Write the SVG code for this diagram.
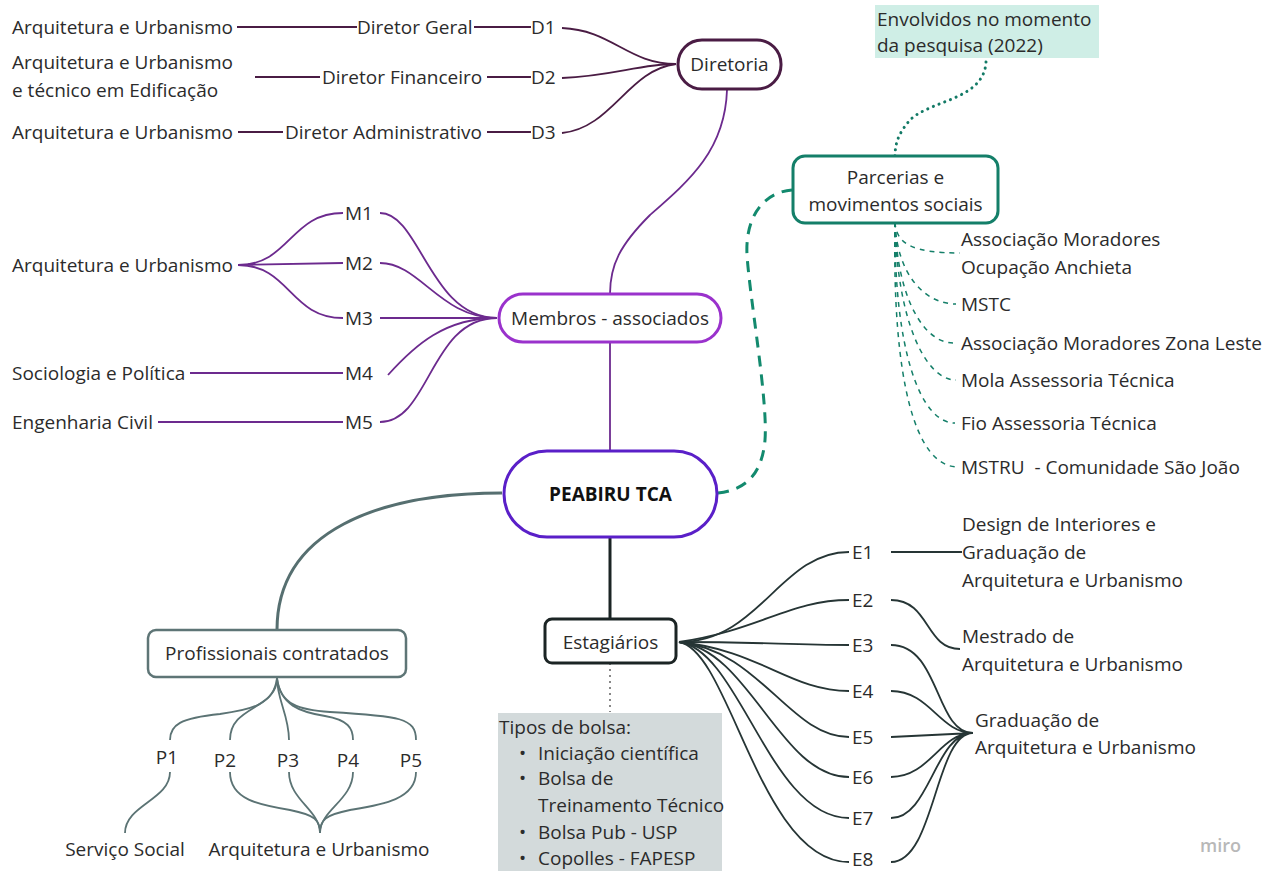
<svg xmlns="http://www.w3.org/2000/svg" width="1283" height="871" viewBox="0 0 1283 871">
<style>
.t{font-family:"Open Sans","Noto Sans",sans-serif;font-size:19px;fill:#2b2b2b}
.c{text-anchor:middle}
.b{font-weight:bold;fill:#111}
.node{fill:#fff}
.dir{stroke:#4a1c44;stroke-width:1.8;fill:none}
.mem{stroke:#6c2a8e;stroke-width:1.8;fill:none}
.par{stroke:#147f69;stroke-width:1.5;fill:none;stroke-dasharray:5 5}
.pro{stroke:#5b7374;stroke-width:1.8;fill:none}
.est{stroke:#263535;stroke-width:1.8;fill:none}
</style>
<rect width="1283" height="871" fill="#fff"/>
<g id="connectors">
  <path class="dir" d="M237,27 H357 M474,27 H531 M562,28 C612,30 628,64 676,64"/>
  <path class="dir" d="M255,77 H320 M487,77 H531 M562,78 C612,76 640,64 676,64"/>
  <path class="dir" d="M238,132 H283 M487,132 H531 M562,133 C612,128 628,70 676,64"/>
  <path class="mem" d="M727,90 C725,150 690,180 650,215 C620,245 610,265 610,294"/>
  <path class="mem" d="M497,318 C430,318 420,213 380,213"/>
  <path class="mem" d="M497,318 C440,318 420,263 380,263"/>
  <path class="mem" d="M497,318 H380"/>
  <path class="mem" d="M497,318 C445,318 415,345 388,375"/>
  <path class="mem" d="M497,318 C430,318 430,422 380,422"/>
  <path class="mem" d="M238,265 C290,265 290,213 343,213 M238,265 L343,263 M238,265 C290,265 290,318 343,318"/>
  <path class="mem" d="M190,373 H343 M158,422 H343"/>
  <path class="mem" d="M610,342 V450"/>
  <path d="M718,493 C745,490 762,475 765,440 C768,400 750,300 747,255 C745,215 765,192 792,190" fill="none" stroke="#138a6e" stroke-width="3" stroke-dasharray="11 8"/>
  <path d="M986,62 C984,100 930,100 910,120 C897,135 895,145 895,158" fill="none" stroke="#137a66" stroke-width="3" stroke-dasharray="0.1 6" stroke-linecap="round"/>
  <path class="par" d="M895,222 C896,245 915,253 960,253"/>
  <path class="par" d="M895,222 C897,275 925,304 956,304"/>
  <path class="par" d="M895,222 C897,300 925,343 953,343"/>
  <path class="par" d="M895,222 C897,320 925,380 956,380"/>
  <path class="par" d="M895,222 C894,350 920,423 955,423"/>
  <path class="par" d="M895,222 C892,380 915,467 958,467"/>
  <path d="M502,493 C380,493 277,530 277,630" fill="none" stroke="#566f70" stroke-width="3"/>
  <path class="pro" d="M277,678 C274,705 250,710 220,714 C180,718 170,725 170,740"/>
  <path class="pro" d="M277,678 C277,710 230,705 230,740"/>
  <path class="pro" d="M277,678 C277,700 289,715 289,740"/>
  <path class="pro" d="M277,678 C280,705 300,712 325,716 C348,720 353,728 353,740"/>
  <path class="pro" d="M277,678 C280,705 300,710 330,712 C400,716 416,718 416,740"/>
  <path class="pro" d="M170,772 C170,800 125,805 125,833"/>
  <path class="pro" d="M230,772 C230,800 260,805 290,810 C315,815 320,820 320,833"/>
  <path class="pro" d="M289,772 C289,800 320,810 320,833"/>
  <path class="pro" d="M353,772 C353,800 320,810 320,833"/>
  <path class="pro" d="M416,772 C416,800 380,805 350,810 C325,815 320,820 320,833"/>
  <path d="M610,537 V619" stroke="#1b2424" stroke-width="3"/>
  <path d="M610,663 V712" stroke="#888" stroke-width="2" stroke-dasharray="2 4"/>
  <path class="est" d="M679,642 C760,642 780,552 849,552"/>
  <path class="est" d="M679,642 C760,630 790,600 849,600"/>
  <path class="est" d="M679,642 C760,642 790,645 849,645"/>
  <path class="est" d="M679,642 C760,650 790,691 849,691"/>
  <path class="est" d="M679,642 C760,650 790,737 849,737"/>
  <path class="est" d="M679,642 C750,650 780,777 849,777"/>
  <path class="est" d="M679,642 C740,650 770,818 849,818"/>
  <path class="est" d="M679,642 C730,650 760,862 849,862"/>
  <path class="est" d="M891,552 H962 M891,600 C930,600 925,649 960,649"/>
  <path class="est" d="M891,645 C940,645 935,733 973,733 M891,691 C930,691 940,733 973,733 M891,737 L973,733 M891,777 C930,777 940,733 973,733 M891,818 C930,818 935,733 973,733 M891,862 C935,862 935,733 973,733"/>
</g>
<g id="diretoria">
  <rect class="node" x="678" y="40" width="103" height="49" rx="24" stroke="#4a1c44" stroke-width="3"/>
  <text class="t c" x="729.5" y="71">Diretoria</text>
</g>
<g id="diretoria-items">
  <text class="t" x="12" y="34">Arquitetura e Urbanismo</text>
  <text class="t" x="357" y="34">Diretor Geral</text>
  <text class="t" x="531" y="34">D1</text>
  <text class="t" x="12" y="69">Arquitetura e Urbanismo</text>
  <text class="t" x="12" y="97">e técnico em Edificação</text>
  <text class="t" x="322" y="84">Diretor Financeiro</text>
  <text class="t" x="531" y="84">D2</text>
  <text class="t" x="12" y="139">Arquitetura e Urbanismo</text>
  <text class="t" x="285" y="139">Diretor Administrativo</text>
  <text class="t" x="531" y="139">D3</text>
</g>
<g id="membros">
  <rect class="node" x="499" y="294" width="222" height="48" rx="24" stroke="#9a32cc" stroke-width="3"/>
  <text class="t c" x="610" y="324.5">Membros - associados</text>
</g>
<g id="membros-items">
  <text class="t" x="345" y="220">M1</text>
  <text class="t" x="345" y="270">M2</text>
  <text class="t" x="345" y="325">M3</text>
  <text class="t" x="345" y="380">M4</text>
  <text class="t" x="345" y="429">M5</text>
  <text class="t" x="12" y="272">Arquitetura e Urbanismo</text>
  <text class="t" x="12" y="380">Sociologia e Política</text>
  <text class="t" x="12" y="429">Engenharia Civil</text>
</g>
<g id="peabiru">
  <rect class="node" x="504" y="451" width="213" height="86" rx="43" stroke="#5a1fc8" stroke-width="3"/>
  <text class="t c b" x="610.5" y="500.5">PEABIRU TCA</text>
</g>
<g id="parcerias">
  <rect class="node" x="793" y="156" width="205" height="67" rx="12" stroke="#147f69" stroke-width="3"/>
  <text class="t c" x="895.5" y="184">Parcerias e</text>
  <text class="t c" x="895.5" y="211">movimentos sociais</text>
</g>
<g id="envolvidos">
  <rect x="875" y="5" width="224" height="53" fill="#cfeee6"/>
  <text class="t" x="877" y="26">Envolvidos no momento</text>
  <text class="t" x="877" y="52">da pesquisa (2022)</text>
</g>
<g id="parcerias-items">
  <text class="t" x="961" y="246">Associação Moradores</text>
  <text class="t" x="961" y="274">Ocupação Anchieta</text>
  <text class="t" x="961" y="311">MSTC</text>
  <text class="t" x="961" y="350">Associação Moradores Zona Leste</text>
  <text class="t" x="961" y="387">Mola Assessoria Técnica</text>
  <text class="t" x="961" y="430">Fio Assessoria Técnica</text>
  <text class="t" x="961" y="474" xml:space="preserve">MSTRU  - Comunidade São João</text>
</g>
<g id="profissionais">
  <rect class="node" x="148" y="630" width="258" height="47" rx="8" stroke="#5e7576" stroke-width="2.5"/>
  <text class="t c" x="277" y="660">Profissionais contratados</text>
</g>
<g id="profissionais-items">
  <text class="t c" x="167" y="764">P1</text>
  <text class="t c" x="225" y="767">P2</text>
  <text class="t c" x="288" y="767">P3</text>
  <text class="t c" x="348" y="767">P4</text>
  <text class="t c" x="411" y="767">P5</text>
  <text class="t c" x="125" y="856">Serviço Social</text>
  <text class="t c" x="319" y="856">Arquitetura e Urbanismo</text>
</g>
<g id="estagiarios">
  <rect class="node" x="545" y="619" width="131" height="44" rx="7" stroke="#1b2424" stroke-width="3"/>
  <text class="t c" x="610.5" y="648.5">Estagiários</text>
</g>
<g id="tipos-bolsa">
  <rect x="498" y="713" width="224" height="158" fill="#d3dadb"/>
  <text class="t" x="499" y="734">Tipos de bolsa:</text>
  <text class="t" x="519" y="760" font-size="13">•</text>
  <text class="t" x="538" y="760">Iniciação científica</text>
  <text class="t" x="519" y="785" font-size="13">•</text>
  <text class="t" x="538" y="785">Bolsa de</text>
  <text class="t" x="538" y="812">Treinamento Técnico</text>
  <text class="t" x="519" y="839" font-size="13">•</text>
  <text class="t" x="538" y="839">Bolsa Pub - USP</text>
  <text class="t" x="519" y="865" font-size="13">•</text>
  <text class="t" x="538" y="865">Copolles - FAPESP</text>
</g>
<g id="estagiarios-items">
  <text class="t" x="852" y="559">E1</text>
  <text class="t" x="852" y="607">E2</text>
  <text class="t" x="852" y="652">E3</text>
  <text class="t" x="852" y="698">E4</text>
  <text class="t" x="852" y="744">E5</text>
  <text class="t" x="852" y="784">E6</text>
  <text class="t" x="852" y="825">E7</text>
  <text class="t" x="852" y="866">E8</text>
  <text class="t" x="962" y="531">Design de Interiores e</text>
  <text class="t" x="962" y="559">Graduação de</text>
  <text class="t" x="962" y="587">Arquitetura e Urbanismo</text>
  <text class="t" x="962" y="643">Mestrado de</text>
  <text class="t" x="962" y="671">Arquitetura e Urbanismo</text>
  <text class="t" x="975" y="727">Graduação de</text>
  <text class="t" x="975" y="754">Arquitetura e Urbanismo</text>
</g>
<text x="1200" y="852" font-family="Open Sans, sans-serif" font-size="18" fill="#b8b8b8" font-weight="600">miro</text>
</svg>
